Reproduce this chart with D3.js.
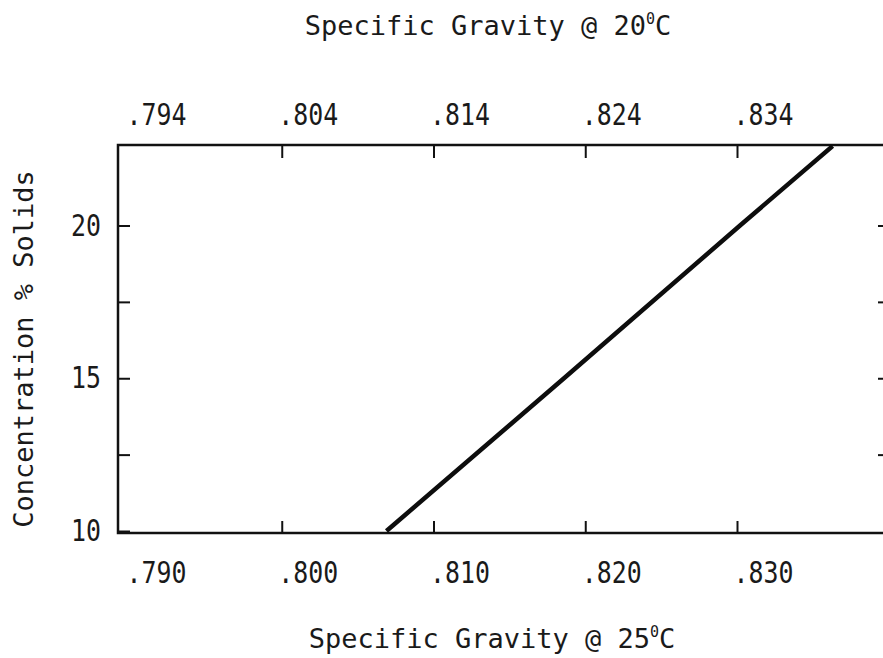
<!DOCTYPE html>
<html>
<head>
<meta charset="utf-8">
<script src="https://cdn.jsdelivr.net/npm/d3@7"></script>
<style>
body { margin: 0; background: #fff; }
text { font-family: "DejaVu Sans Mono", monospace; fill: #1a1a1a; }
</style>
</head>
<body>
<svg id="chart"></svg>
<script>
// concentration (% solids) against specific gravity at 25C
var concentration = [10, 15, 20, 22.6];
var gravity25 = [0.8069, 0.8186, 0.8302, 0.8363];

var bottomTicks = [0.790, 0.800, 0.810, 0.820, 0.830];
var bottomLabels = [".790", ".800", ".810", ".820", ".830"];
var topTicks = [0.794, 0.804, 0.814, 0.824, 0.834];
var topLabels = [".794", ".804", ".814", ".824", ".834"];
var leftTicks = [10, 12.5, 15, 17.5, 20];
var leftLabels = ["10", "", "15", "", "20"];

var screenSettings = {width: 883, height: 658};
var marginSettings = {top: 145, bottom: 125, left: 118, right: -3};

var squeeze = 0.83; // tick labels are narrow, tall glyphs

var drawChart = function(svgSelector, screen, margins)
{
  var graphWidth  = screen.width - margins.left - margins.right;
  var graphHeight = screen.height - margins.top - margins.bottom;

  var xScale = d3.scaleLinear()
                .domain([0.790, 0.830])
                .range([12, 619]);

  var xTopScale = d3.scaleLinear()
                .domain([0.794, 0.834])
                .range([12, 619]);

  var yScale = d3.scaleLinear()
                .domain([10, 20])
                .range([386, 80.5]);

  var svg = d3.select(svgSelector)
              .attr("width", screen.width)
              .attr("height", screen.height);

  var graph = svg.append("g")
              .attr("transform", "translate(" + margins.left + "," + margins.top + ")");

  graph.append("clipPath")
       .attr("id", "plot-clip")
       .append("rect")
       .attr("width", graphWidth)
       .attr("height", graphHeight);

  //bottom axis, ticks pointing in
  var bottomAxis = graph.append("g")
                  .attr("transform", "translate(0," + graphHeight + ")")
                  .call(d3.axisBottom(xScale)
                          .tickValues(bottomTicks)
                          .tickSize(-12)
                          .tickFormat(function(d, i){ return bottomLabels[i]; }));

  //top axis
  var topAxis = graph.append("g")
                  .call(d3.axisTop(xTopScale)
                          .tickValues(topTicks)
                          .tickSize(-13)
                          .tickFormat(function(d, i){ return topLabels[i]; }));

  [bottomAxis, topAxis].forEach(function(ax, k){
    ax.select(".domain").remove();
    ax.selectAll(".tick line")
      .attr("stroke", "#111")
      .attr("stroke-width", 2)
      .filter(function(d, i){ return i == 0; })
      .remove();
    ax.selectAll(".tick text")
      .attr("font-family", "DejaVu Sans Mono")
      .attr("font-size", 30)
      .attr("text-anchor", "start")
      .attr("x", -4 / squeeze)
      .attr("y", k == 0 ? 50 : -20)
      .attr("dy", 0)
      .attr("transform", "scale(" + squeeze + ",1)")
      .attr("fill", "#1a1a1a");
  });

  //left axis
  var leftAxis = graph.append("g")
                  .call(d3.axisLeft(yScale)
                          .tickValues(leftTicks)
                          .tickSize(-12)
                          .tickFormat(function(d, i){ return leftLabels[i]; }));
  leftAxis.select(".domain").remove();
  leftAxis.selectAll(".tick line").attr("stroke", "#111").attr("stroke-width", 2);
  leftAxis.selectAll(".tick text")
          .attr("font-family", "DejaVu Sans Mono")
          .attr("font-size", 30)
          .attr("text-anchor", "end")
          .attr("x", -17 / squeeze)
          .attr("transform", "scale(" + squeeze + ",1)")
          .attr("fill", "#1a1a1a");

  //right side, short ticks only
  var rightAxis = graph.append("g")
                  .attr("transform", "translate(" + graphWidth + ",0)")
                  .call(d3.axisRight(yScale)
                          .tickValues(leftTicks.slice(1))
                          .tickSize(-8)
                          .tickFormat(""));
  rightAxis.select(".domain").remove();
  rightAxis.selectAll(".tick line").attr("stroke", "#111").attr("stroke-width", 2);

  //frame
  graph.append("rect")
       .attr("x", 0)
       .attr("y", 0)
       .attr("width", graphWidth)
       .attr("height", graphHeight)
       .attr("fill", "none")
       .style("stroke", "#111")
       .style("stroke-width", 2.5);

  var lineDrawer = d3.line()
                  .x(function(d, i){ return xScale(gravity25[i]); })
                  .y(function(d){ return yScale(d); });

  graph.append("path")
       .datum(concentration)
       .attr("d", lineDrawer)
       .attr("clip-path", "url(#plot-clip)")
       .attr("fill", "none")
       .attr("stroke", "#0d0d0d")
       .attr("stroke-width", 4.5);

  //axis titles
  var addTitle = function(x, y, rotate, main, temp)
  {
    var t = svg.append("text")
               .attr("transform", "translate(" + x + "," + y + ")" + (rotate ? " rotate(-90)" : ""))
               .attr("text-anchor", "middle")
               .attr("font-size", 27);
    t.append("tspan").text(main);
    if (temp) {
      t.append("tspan").attr("font-size", 15).attr("dy", -11).text("0");
      t.append("tspan").attr("dy", 11).text("C");
    }
  };

  addTitle(488, 35, false, "Specific Gravity @ 20", true);
  addTitle(492, 648, false, "Specific Gravity @ 25", true);
  addTitle(33, 349, true, "Concentration % Solids", false);
};

drawChart("#chart", screenSettings, marginSettings);
</script>
</body>
</html>
